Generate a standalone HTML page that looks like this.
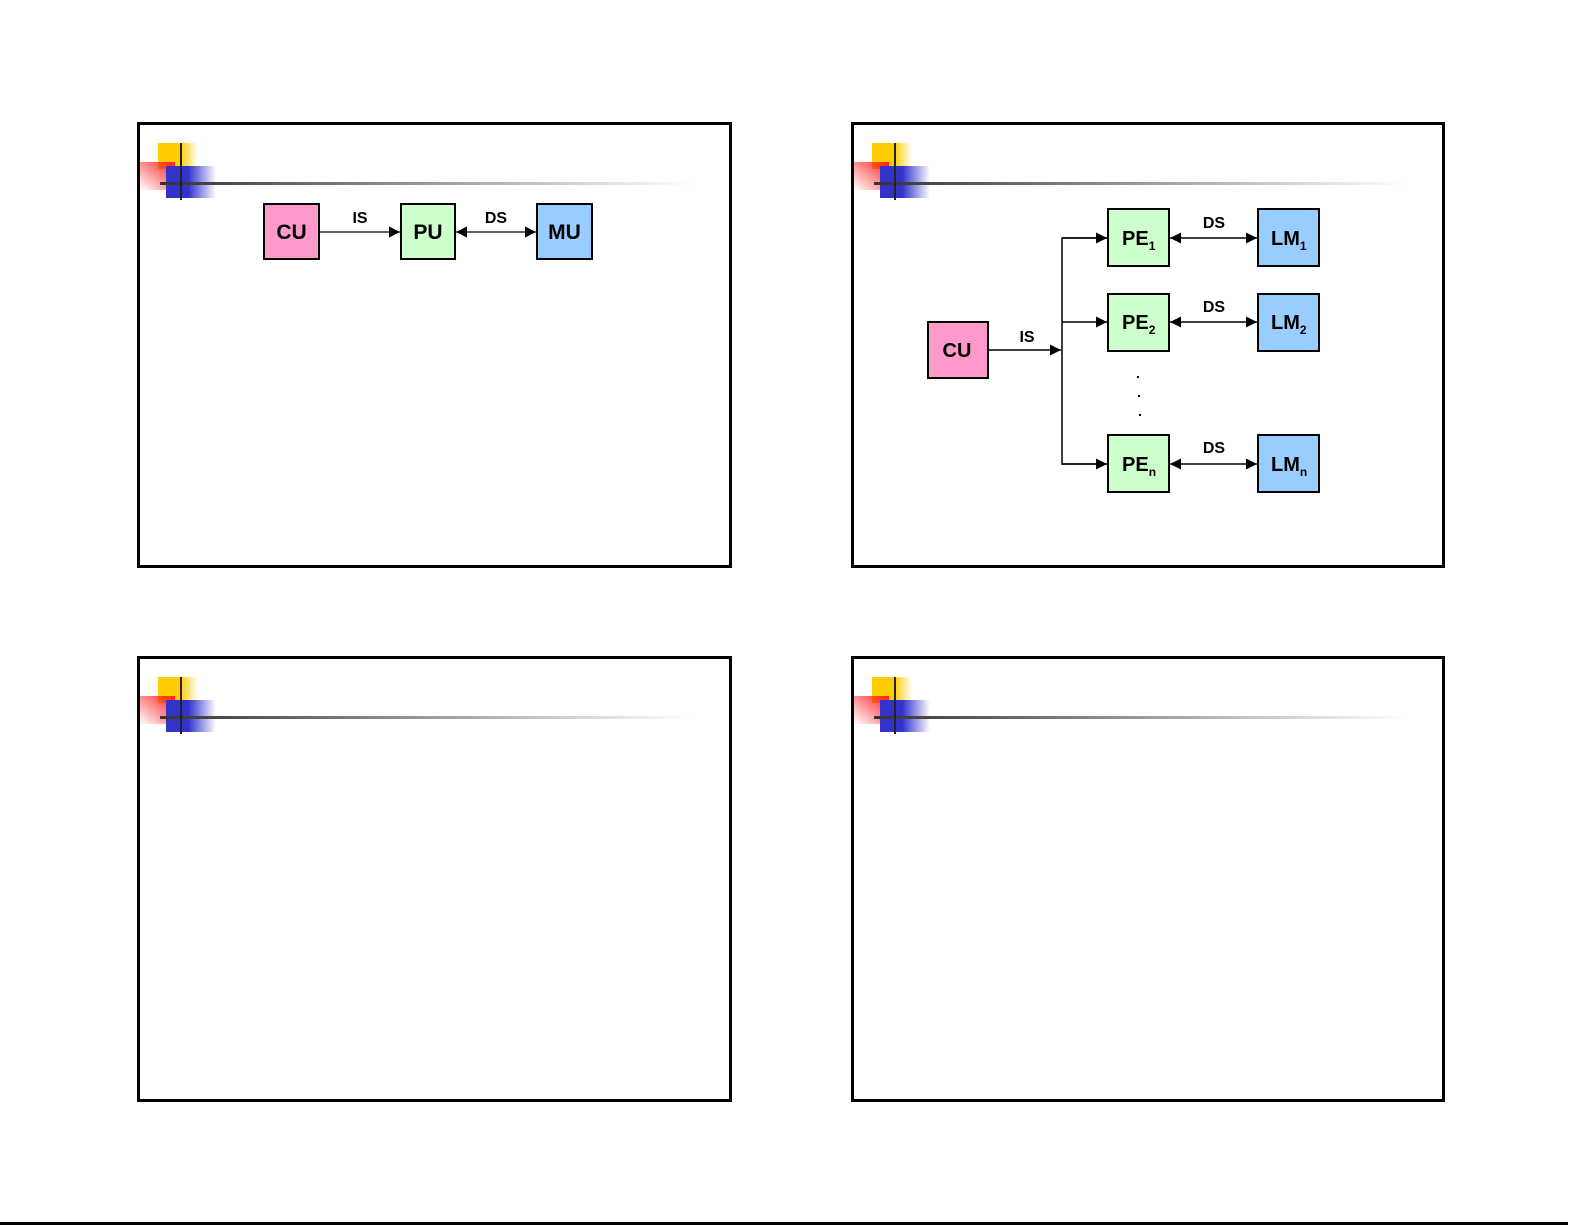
<!DOCTYPE html>
<html><head><meta charset="utf-8"><style>html,body{margin:0;padding:0;background:#fff}svg{display:block}</style></head>
<body>
<svg width="1585" height="1225" viewBox="0 0 1585 1225" xmlns="http://www.w3.org/2000/svg" font-family="Liberation Sans, Arial, sans-serif">
<defs>
<linearGradient id="gy" x1="0" x2="1" y1="0" y2="0"><stop offset="0" stop-color="#ffcc00"/><stop offset="0.55" stop-color="#ffcc00"/><stop offset="1" stop-color="#ffcc00" stop-opacity="0"/></linearGradient>
<linearGradient id="gr" x1="1" y1="0" x2="0" y2="1"><stop offset="0" stop-color="#ff2020"/><stop offset="1" stop-color="#ff2020" stop-opacity="0"/></linearGradient>
<linearGradient id="gb" x1="0" x2="1" y1="0" y2="0"><stop offset="0" stop-color="#3333cc"/><stop offset="0.45" stop-color="#3333cc"/><stop offset="1" stop-color="#3333cc" stop-opacity="0"/></linearGradient>
<linearGradient id="gl" x1="0" x2="1" y1="0" y2="0"><stop offset="0" stop-color="#333"/><stop offset="1" stop-color="#fff"/></linearGradient>
<marker id="ar" viewBox="0 0 10 10" refX="10" refY="5" markerWidth="18" markerHeight="11" markerUnits="userSpaceOnUse" orient="auto-start-reverse"><path d="M0,0L10,5L0,10z" fill="#000"/></marker>
<g id="logo">
<rect x="21" y="21" width="40" height="26" fill="url(#gy)"/>
<rect x="3" y="40" width="35" height="28" fill="url(#gr)"/>
<rect x="29" y="44" width="50" height="32" fill="url(#gb)"/>
<rect x="23" y="60" width="530" height="3" fill="url(#gl)"/>
<rect x="43" y="21" width="2" height="57" fill="#222"/>
</g>
</defs>
<g fill="none" stroke="#000" stroke-width="3">
<rect x="138.5" y="123.5" width="592" height="443"/>
<rect x="852.5" y="123.5" width="591" height="443"/>
<rect x="138.5" y="657.5" width="592" height="443"/>
<rect x="852.5" y="657.5" width="591" height="443"/>
</g>
<use href="#logo" x="137" y="122"/>
<use href="#logo" x="851" y="122"/>
<use href="#logo" x="137" y="656"/>
<use href="#logo" x="851" y="656"/>
<rect x="0" y="1222" width="1568" height="3" fill="#000"/>

<g stroke="#000" stroke-width="2">
<rect x="264" y="204" width="55" height="55" fill="#ff99cc"/>
<rect x="401" y="204" width="54" height="55" fill="#ccffcc"/>
<rect x="537" y="204" width="55" height="55" fill="#99ccff"/>
</g>
<g stroke="#000" stroke-width="1.3" fill="none">
<line x1="319" y1="232" x2="400" y2="232" marker-end="url(#ar)"/>
<line x1="456" y1="232" x2="536" y2="232" marker-start="url(#ar)" marker-end="url(#ar)"/>
</g>
<g font-weight="bold" text-anchor="middle" font-size="21">
<text x="291.5" y="239">CU</text><text x="428" y="239">PU</text><text x="564.5" y="239">MU</text>
</g>
<g font-weight="bold" text-anchor="middle" font-size="16">
<text x="360" y="223">IS</text><text x="496" y="223">DS</text>
</g>

<g stroke="#000" stroke-width="2">
<rect x="928" y="322" width="60" height="56" fill="#ff99cc"/>
<rect x="1108" y="209" width="61" height="57" fill="#ccffcc"/>
<rect x="1108" y="294" width="61" height="57" fill="#ccffcc"/>
<rect x="1108" y="435" width="61" height="57" fill="#ccffcc"/>
<rect x="1258" y="209" width="61" height="57" fill="#99ccff"/>
<rect x="1258" y="294" width="61" height="57" fill="#99ccff"/>
<rect x="1258" y="435" width="61" height="57" fill="#99ccff"/>
</g>
<g stroke="#000" stroke-width="1.5" fill="none">
<line x1="988" y1="350" x2="1061" y2="350" marker-end="url(#ar)"/>
<polyline points="1107,238 1062,238 1062,464 1107,464"/>
<line x1="1062" y1="238" x2="1107" y2="238" marker-end="url(#ar)"/>
<line x1="1062" y1="322" x2="1107" y2="322" marker-end="url(#ar)"/>
<line x1="1062" y1="464" x2="1107" y2="464" marker-end="url(#ar)"/>
<line x1="1170" y1="238" x2="1257" y2="238" marker-start="url(#ar)" marker-end="url(#ar)"/>
<line x1="1170" y1="322" x2="1257" y2="322" marker-start="url(#ar)" marker-end="url(#ar)"/>
<line x1="1170" y1="464" x2="1257" y2="464" marker-start="url(#ar)" marker-end="url(#ar)"/>
</g>
<g font-weight="bold" font-size="20">
<text x="957" y="357" text-anchor="middle">CU</text>
<text x="1122" y="245">PE<tspan font-size="12" dy="5">1</tspan></text>
<text x="1122" y="329">PE<tspan font-size="12" dy="5">2</tspan></text>
<text x="1122" y="471">PE<tspan font-size="12" dy="5">n</tspan></text>
<text x="1271" y="245">LM<tspan font-size="12" dy="5">1</tspan></text>
<text x="1271" y="329">LM<tspan font-size="12" dy="5">2</tspan></text>
<text x="1271" y="471">LM<tspan font-size="12" dy="5">n</tspan></text>
</g>
<g font-weight="bold" text-anchor="middle" font-size="16">
<text x="1027" y="342">IS</text>
<text x="1214" y="228">DS</text><text x="1214" y="312">DS</text><text x="1214" y="453">DS</text>
</g>
<g fill="#000">
<rect x="1137" y="376" width="2" height="2"/><rect x="1138" y="395" width="2" height="2"/><rect x="1139" y="414" width="2" height="2"/>
</g>
</svg>
</body></html>
